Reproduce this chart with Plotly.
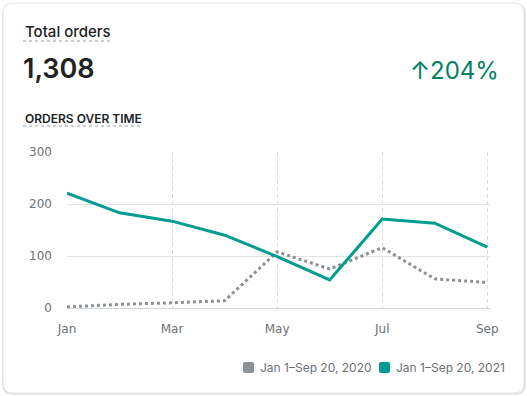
import plotly.graph_objects as go

months = ["Jan", "Feb", "Mar", "Apr", "May", "Jun", "Jul", "Aug", "Sep"]
orders_2020 = [2, 7, 10, 14, 108, 75, 116, 56, 49]
orders_2021 = [221, 183, 167, 140, 99, 54, 171, 163, 117]
tick_labels = ["Jan", "Mar", "May", "Jul", "Sep"]
y_ticks = [0, 100, 200, 300]
series_names = ["Jan 1–Sep 20, 2020", "Jan 1–Sep 20, 2021"]
total_orders = "1,308"
change = "↑204%"

W, H = 527, 396
L, R, T, B = 67, 36, 152, 88
PW, PH = W - L - R, H - T - B

def px(x):
    return (x - L) / PW

def py(y):
    return (H - B - y) / PH

GRAY = "#8c9196"
TEAL = "#009c8f"
FONT = "Inter, Roboto, sans-serif"
TICKFONT = "DejaVu Sans, sans-serif"

xs = list(range(len(months)))

fig = go.Figure()
fig.add_trace(go.Scatter(x=xs, y=orders_2020, mode="lines", name=series_names[0],
                         line=dict(color=GRAY, width=3, dash="dot"), showlegend=False,
                         hoverinfo="skip"))
fig.add_trace(go.Scatter(x=xs, y=orders_2021, mode="lines", name=series_names[1],
                         line=dict(color=TEAL, width=3), showlegend=False,
                         hoverinfo="skip"))

shapes = []
def P(x, y):
    return f"{px(x):.5f},{py(y):.5f}"

def rrect(x0, y0, x1, y1, r):
    return (f"M {P(x0+r,y0)} L {P(x1-r,y0)} Q {P(x1,y0)} {P(x1,y0+r)} L {P(x1,y1-r)} "
            f"Q {P(x1,y1)} {P(x1-r,y1)} L {P(x0+r,y1)} Q {P(x0,y1)} {P(x0,y1-r)} "
            f"L {P(x0,y0+r)} Q {P(x0,y0)} {P(x0+r,y0)} Z")

# card shadow + border
shapes.append(dict(type="path", path=rrect(3, 4, 525, 394, 10), xref="paper", yref="paper",
                   line=dict(color="#dcdee0", width=1.5), layer="below"))
shapes.append(dict(type="path", path=rrect(3, 3, 524, 393, 10), xref="paper", yref="paper",
                   fillcolor="white", line=dict(color="#e6e7e9", width=1), layer="below"))
# dotted underlines
for (a, b, yy) in [(23, 113, 41), (23, 141, 126)]:
    shapes.append(dict(type="line", xref="paper", yref="paper", x0=px(a), x1=px(b),
                       y0=py(yy), y1=py(yy), line=dict(color="#babec3", width=1.5, dash="dot")))

annotations = [
    dict(text="Total orders", x=px(23), y=py(31), xanchor="left", yanchor="middle",
         font=dict(family=FONT, size=15, color="#202223", weight=500)),
    dict(text=total_orders, x=px(21), y=py(69), xanchor="left", yanchor="middle",
         font=dict(family=FONT, size=27, color="#202223", weight=600)),
    dict(text=change, x=px(501), y=py(70), xanchor="right", yanchor="middle",
         font=dict(family=FONT, size=24, color="#008060", weight=400)),
    dict(text="ORDERS OVER TIME", x=px(23), y=py(118), xanchor="left", yanchor="middle",
         font=dict(family=FONT, size=12, color="#202223", weight=600)),
]

# legend
leg = [(243, GRAY, series_names[0]), (379, TEAL, series_names[1])]
for (lx, col, name) in leg:
    shapes.append(dict(type="path", path=rrect(lx, 362, lx + 11, 373, 2), xref="paper",
                       yref="paper", fillcolor=col, line=dict(width=0)))
    annotations.append(dict(text=name, x=px(lx + 15), y=py(367.5), xanchor="left",
                            yanchor="middle",
                            font=dict(family=FONT, size=12, color="#6d7175")))

for a in annotations:
    a.update(xref="paper", yref="paper", showarrow=False)

fig.update_layout(
    width=W, height=H,
    margin=dict(l=L, r=R, t=T, b=B, pad=0),
    paper_bgcolor="white", plot_bgcolor="white",
    shapes=shapes, annotations=annotations,
    showlegend=False,
    xaxis=dict(range=[0, 8.07], tickvals=[0, 2, 4, 6, 8], ticktext=tick_labels,
               showgrid=True, gridcolor="#dadcde", griddash="4px,3px", gridwidth=1,
               zeroline=False, showline=False, ticks="", ticklabelstandoff=12,
               tickfont=dict(family=TICKFONT, size=12, color="#6d7175"),
               fixedrange=True),
    yaxis=dict(range=[0, 300], tickvals=y_ticks, showgrid=True, gridcolor="#e1e3e5",
               gridwidth=1, zeroline=True, zerolinecolor="#d2d5d8", zerolinewidth=1,
               showline=False, ticks="", ticklabelstandoff=14,
               tickfont=dict(family=TICKFONT, size=12, color="#6d7175"),
               fixedrange=True),
)

fig.write_html("out.html", config={"displayModeBar": False},
               post_script="document.body.style.margin='0';document.body.style.padding='0';")
